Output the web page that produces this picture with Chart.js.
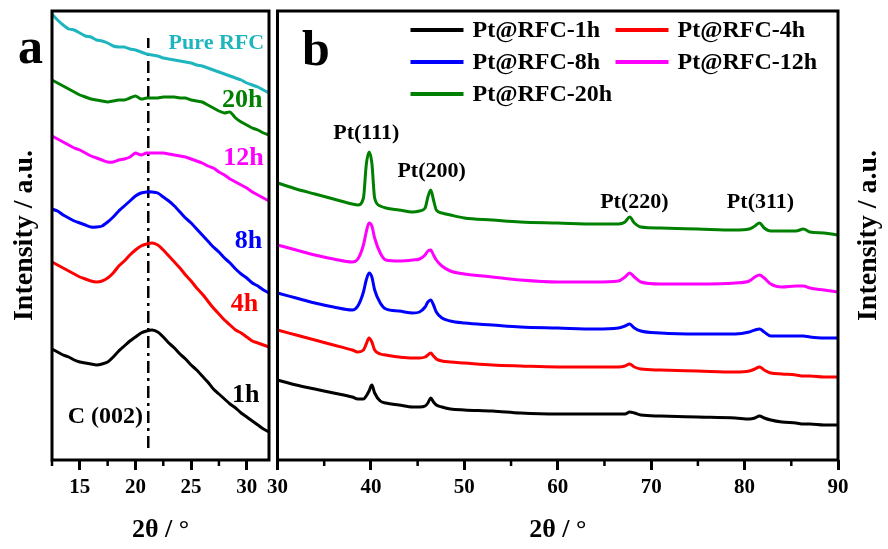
<!DOCTYPE html>
<html><head><meta charset="utf-8">
<script src="https://cdn.jsdelivr.net/npm/chart.js@4.4.1/dist/chart.umd.min.js"></script>
<style>
html,body{margin:0;padding:0;background:#fff;width:888px;height:549px;overflow:hidden}
#ca{position:absolute;left:0;top:0}
#cb{position:absolute;left:262px;top:0}
</style></head><body>
<canvas id="ca" width="275" height="549"></canvas>
<canvas id="cb" width="626" height="549"></canvas>
<script>
// ---------- Panel a data (2θ in degrees, intensity in a.u.) ----------
const A_X = [12.5,13,13.5,14,14.5,15,15.5,16,16.5,17,17.5,18,18.5,19,19.5,20,20.5,21,21.5,22,22.5,23,23.5,24,24.5,25,25.5,26,26.5,27,27.5,28,28.5,29,29.5,30,30.5,31,31.5,32];
const A_PURE = [446,440,435,431,430,427,424,423,420,419,417,414,413,413,411,410,408,406,405,404,402,401,400,399,398,397,395,394,392,390,388,386,384,382,380,377,375,373,370,367];
const A_20H  = [380,377,374,371,368,365,363,361,360,359,358,359,360,360,362,364,361,362,362,362,363,363,363,362,362,360,359,358,355,352,349,347,348,342,338,335,332,330,327,325];
const A_12H  = [324,321,318,315,312,310,307,304,302,300,298,298,300,301,303,307,305,307,307,307,307,306,305,304,303,301,299,297,294,292,288,285,281,278,275,272,268,265,262,259];
const A_8H   = [251,249,245,242,239,237,235,233,233,234,238,243,249,254,259,264,267,268,268,267,263,259,254,248,242,237,231,225,219,213,208,202,197,191,186,182,177,174,170,167];
const A_4H   = [198,195,192,189,186,183,181,179,178,179,182,187,194,199,205,210,214,216,217,215,210,204,198,192,185,179,172,166,159,152,146,140,135,130,127,123,119,117,115,113];
const A_1H   = [111,108,105,103,100,98,97,96,95,96,98,103,109,114,119,123,127,129,130,128,123,117,112,106,101,95,90,84,78,71,66,61,56,52,47,43,39,35,31,28];
const C002_X = 21.15;           // C(002) reference line position
const C002_Y = [12, 422];       // extent of the reference line
const TICKS_A = [15,20,25,30];
const MINOR_A = [12.5,17.5,22.5,27.5];

// ---------- Panel b data ----------
const B_X = [30,32,34,36,38,38.6,39.2,39.5,39.8,40.1,40.4,41.0,41.6,43,44.5,45.2,45.8,46.1,46.4,46.7,47.0,47.6,48.5,50,53,56,60,64,66.5,67.2,67.7,68.2,68.9,71,75,79,80.5,81.1,81.6,82.1,82.8,84,85.5,86.3,87,88.5,90];
const B_1H  = [80,75,71,67,63,61,61,64,69,75,67,59,57,55,53,53,54,57,62,58,55,53,51,50,49,47,46,46,46,46,48,47,45,44,43,42,41,42,44,42,40,38,37,36,36,35,35];
const B_4H  = [130,125,120,115,110,108,110,116,122,118,110,106,105,103,102,102,103,105,107,104,101,99,98,97,95,94,93,93,93,94,96,93,91,90,89,88,89,91,93,90,87,86,85,84,84,83,83];
const B_8H  = [167,162,157,153,150,154,168,180,187,183,170,157,151,149,147,148,153,158,160,155,148,142,139,137,135,133,132,131,132,134,136,132,129,127,126,126,128,130,131,128,124,124,124,124,123,122,122];
const B_12H = [215,210,205,201,198,201,215,228,237,234,222,207,200,199,200,201,205,209,210,205,200,194,189,186,183,180,178,178,179,183,187,183,178,176,176,177,179,183,185,182,176,173,174,174,172,170,168];
const B_20H = [277,271,266,261,256,255,262,295,308,297,262,254,252,250,248,249,252,263,270,260,250,247,245,242,240,238,237,236,236,238,243,237,233,232,231,230,231,234,237,232,229,229,229,231,228,227,225];
const B_LABELS = ['Pt@RFC-1h','Pt@RFC-4h','Pt@RFC-8h','Pt@RFC-12h','Pt@RFC-20h'];
const TICKS_B = [30,40,50,60,70,80,90];
const MINOR_B = [35,45,55,65,75,85];

// ---------- text annotations ----------
const NOTES_A = [
  {t:'Pure RFC', x:27.27, y:417, c:'#1fb5be', s:22},
  {t:'20h', x:29.6, y:360, c:'#008000', s:26},
  {t:'12h', x:29.7, y:302, c:'#ff00ff', s:26},
  {t:'8h',  x:30.15, y:219, c:'#0000ff', s:26},
  {t:'4h',  x:29.8, y:156, c:'#ff0000', s:26},
  {t:'1h',  x:29.9, y:65,  c:'#000000', s:26},
  {t:'C (002)', x:17.3, y:43, c:'#000000', s:24}
];
const NOTES_B = [
  {t:'Pt(111)', x:39.5, y:327, c:'#000', s:22},
  {t:'Pt(200)', x:46.5, y:289, c:'#000', s:22},
  {t:'Pt(220)', x:68.2, y:258, c:'#000', s:22},
  {t:'Pt(311)', x:81.7, y:258, c:'#000', s:22}
];

const FONT = "'Liberation Serif','Times New Roman',serif";
Chart.defaults.font.family = FONT;
Chart.defaults.color = '#000';

const pts = (xs, ys) => xs.map((x, i) => ({x, y: ys[i]}));

function framePlugin(minor, letter, lx, ly, notes) {
  return {
    id: 'frame',
    afterDatasetsDraw(chart) {
      const {ctx, chartArea: a} = chart;
      const xs = chart.scales.x, ys = chart.scales.y;
      ctx.save();
      ctx.strokeStyle = '#000';
      ctx.lineWidth = 3;
      ctx.strokeRect(a.left, a.top, a.right - a.left, a.bottom - a.top);
      ctx.lineWidth = 2.5;
      ctx.beginPath();
      minor.forEach(v => {
        const px = xs.getPixelForValue(v);
        ctx.moveTo(px, a.bottom);
        ctx.lineTo(px, a.bottom + 6);
      });
      ctx.stroke();
      ctx.textAlign = 'center';
      ctx.textBaseline = 'middle';
      notes.forEach(n => {
        ctx.fillStyle = n.c;
        ctx.font = 'bold ' + n.s + 'px ' + FONT;
        ctx.fillText(n.t, xs.getPixelForValue(n.x), ys.getPixelForValue(n.y));
      });
      ctx.fillStyle = '#000';
      ctx.font = 'bold 50px ' + FONT;
      ctx.textAlign = 'left';
      ctx.textBaseline = 'alphabetic';
      ctx.fillText(letter, lx, ly);
      ctx.restore();
    }
  };
}

const legendPlugin = {
  id: 'customLegend',
  afterDatasetsDraw(chart) {
    const {ctx, chartArea: a} = chart;
    ctx.save();
    ctx.font = 'bold 24px ' + FONT;
    ctx.textAlign = 'left';
    ctx.textBaseline = 'middle';
    chart.data.datasets.forEach((ds, i) => {
      const col = i % 2, row = Math.floor(i / 2);
      const x0 = a.left + (col ? 338 : 133);
      const y = a.top + 19 + row * 32;
      ctx.strokeStyle = ds.borderColor;
      ctx.lineWidth = 4;
      ctx.beginPath();
      ctx.moveTo(x0, y);
      ctx.lineTo(x0 + 53, y);
      ctx.stroke();
      ctx.fillStyle = '#000';
      ctx.fillText(ds.label, x0 + 62, y + 1);
    });
    // right-hand y title
    ctx.translate(a.right + 31, (a.top + a.bottom) / 2);
    ctx.rotate(-Math.PI / 2);
    ctx.font = 'bold 28px ' + FONT;
    ctx.textAlign = 'center';
    ctx.fillText('Intensity / a.u.', 0, 0);
    ctx.restore();
  }
};

function xScale(min, max, ticks) {
  return {
    type: 'linear', min, max,
    afterBuildTicks: s => { s.ticks = ticks.map(v => ({value: v})); },
    afterFit: s => { s.height = 89; },
    grid: {display: true, drawOnChartArea: false, drawTicks: true, tickLength: 10, lineWidth: 3, color: '#000'},
    border: {display: false},
    ticks: {font: {size: 21, weight: 'bold'}, color: '#000', padding: 5, maxRotation: 0, autoSkip: false},
    title: {display: true, text: '2θ / °', font: {size: 26, weight: 'bold', lineHeight: 1}, color: '#000', padding: {top: 0, bottom: 6}}
  };
}

const lineDs = (label, data, color) => ({label, data, borderColor: color, borderWidth: 3, pointRadius: 0, tension: 0.2, fill: false});

new Chart(document.getElementById('ca'), {
  type: 'line',
  data: {datasets: [
    lineDs('Pure RFC', pts(A_X, A_PURE), '#1fb5be'),
    lineDs('20h', pts(A_X, A_20H), '#008000'),
    lineDs('12h', pts(A_X, A_12H), '#ff00ff'),
    lineDs('8h', pts(A_X, A_8H), '#0000ff'),
    lineDs('4h', pts(A_X, A_4H), '#ff0000'),
    lineDs('1h', pts(A_X, A_1H), '#000000'),
    {label: 'C (002)', data: C002_Y.map(y => ({x: C002_X, y})), borderColor: '#000', borderWidth: 2.5, borderDash: [12, 5, 3, 5], pointRadius: 0, fill: false}
  ]},
  options: {
    responsive: false, animation: false, events: [],
    layout: {padding: {left: 0, right: 6, top: 11, bottom: 0}},
    plugins: {legend: {display: false}, tooltip: {enabled: false}},
    scales: {
      x: xScale(12.5, 32, TICKS_A),
      y: {
        type: 'linear', min: 0, max: 449,
        afterFit: s => { s.width = 52; },
        ticks: {display: false}, grid: {display: false}, border: {display: false},
        title: {display: true, text: 'Intensity / a.u.', font: {size: 28, weight: 'bold', lineHeight: 1}, color: '#000', padding: {top: 11, bottom: 0}}
      }
    }
  },
  plugins: [framePlugin(MINOR_A, 'a', 18, 63, NOTES_A)]
});

const colorsB = ['#000000', '#ff0000', '#0000ff', '#ff00ff', '#008000'];
const seriesB = [B_1H, B_4H, B_8H, B_12H, B_20H];
new Chart(document.getElementById('cb'), {
  type: 'line',
  data: {datasets: seriesB.map((s, i) => ({...lineDs(B_LABELS[i], pts(B_X, s), colorsB[i]), cubicInterpolationMode: 'monotone'}))},
  options: {
    responsive: false, animation: false, events: [],
    layout: {padding: {left: 15, right: 50, top: 11, bottom: 0}},
    plugins: {legend: {display: false}, tooltip: {enabled: false}},
    scales: {
      x: xScale(30, 90, TICKS_B),
      y: {type: 'linear', min: 0, max: 449, display: false}
    }
  },
  plugins: [framePlugin(MINOR_B, 'b', 40, 65, NOTES_B), legendPlugin]
});
</script>
</body></html>
